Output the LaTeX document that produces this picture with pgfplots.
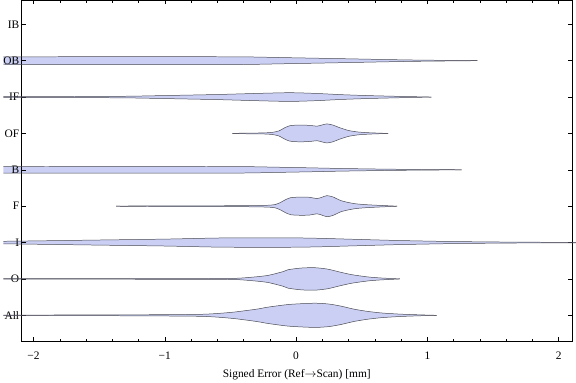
\documentclass[border=0pt]{standalone}
\usepackage{fontspec}
\setmainfont{Liberation Serif}
\usepackage{pgfplots}
\usepackage{pgfplotstable}
\pgfplotsset{compat=1.18}
\usepgfplotslibrary{fillbetween}

\definecolor{vfillc}{RGB}{203,207,243}
\definecolor{vedgec}{RGB}{75,75,85}

\pgfplotsset{
  layers/mylayers/.define layer set={
    axis background,axis grid,pre main,main,axis ticks,axis lines,axis tick labels,axis descriptions,axis foreground
  }{},
}

% x = position, h = half-width (category units)
\pgfplotstableread{
x h
-2.23 0.105
-1.5 0.11
-0.9 0.11
-0.4 0.105
-0.1 0.085
0.2 0.065
0.45 0.048
0.7 0.03
0.9 0.018
1.1 0.01
1.25 0.005
1.38 0
}\tOB
\pgfplotstableread{
x h
-2.23 0.012
-1.8 0.014
-1.3 0.022
-0.95 0.045
-0.6 0.07
-0.3 0.1
-0.05 0.12
0.15 0.1
0.35 0.065
0.55 0.04
0.75 0.022
0.9 0.01
1.03 0
}\tIF
\pgfplotstableread{
x h
-0.485 0
-0.4 0.008
-0.25 0.014
-0.18 0.03
-0.13 0.07
-0.09 0.15
-0.05 0.21
0.0 0.228
0.07 0.228
0.12 0.215
0.16 0.2
0.2 0.235
0.235 0.262
0.28 0.23
0.33 0.16
0.4 0.08
0.47 0.04
0.55 0.02
0.62 0.01
0.7 0
}\tOF
\pgfplotstableread{
x h
-2.23 0.09
-1.5 0.092
-0.9 0.092
-0.4 0.088
-0.15 0.072
0.1 0.055
0.35 0.036
0.65 0.02
0.9 0.01
1.1 0.005
1.26 0
}\tB
\pgfplotstableread{
x h
-1.37 0
-1.2 0.008
-0.8 0.01
-0.4 0.014
-0.22 0.025
-0.16 0.045
-0.12 0.1
-0.08 0.18
-0.04 0.235
0.03 0.25
0.1 0.245
0.16 0.21
0.2 0.25
0.235 0.29
0.28 0.255
0.34 0.155
0.4 0.1
0.46 0.063
0.54 0.04
0.62 0.025
0.7 0.012
0.77 0
}\tF
\pgfplotstableread{
x h
-2.23 0.035
-2.0 0.045
-1.5 0.07
-1.0 0.095
-0.6 0.125
-0.3 0.131
0.0 0.128
0.2 0.115
0.44 0.09
0.8 0.055
1.2 0.028
1.6 0.014
1.9 0.008
2.13 0.006
}\tI
\pgfplotstableread{
x h
-2.23 0.008
-1.5 0.008
-0.8 0.01
-0.6 0.014
-0.44 0.02
-0.3 0.06
-0.21 0.1
-0.1 0.2
-0.06 0.255
0.04 0.3
0.14 0.31
0.24 0.27
0.34 0.183
0.42 0.12
0.49 0.082
0.56 0.05
0.64 0.028
0.72 0.013
0.79 0
}\tO
\pgfplotstableread{
x h
-2.23 0.008
-1.5 0.01
-1.0 0.018
-0.72 0.028
-0.6 0.05
-0.47 0.09
-0.3 0.17
-0.21 0.227
-0.05 0.3
0.14 0.333
0.25 0.31
0.34 0.254
0.44 0.17
0.54 0.11
0.65 0.065
0.79 0.033
0.95 0.012
1.07 0
}\tAll

\newcommand{\violin}[3]{%
  \addplot[name path=up#3, draw=vedgec, line width=0.5pt, smooth, tension=0.4, no markers]
    table[x=x, y expr=#2+\thisrow{h}] {#1};
  \addplot[name path=lo#3, draw=vedgec, line width=0.5pt, smooth, tension=0.4, no markers]
    table[x=x, y expr=#2-\thisrow{h}] {#1};
  \addplot[fill=vfillc, draw=none] fill between[of=up#3 and lo#3];
}

\begin{document}
\begin{tikzpicture}
\begin{axis}[
  set layers=mylayers,
  scale only axis,
  width=552bp, height=342bp,
  xmin=-2.09, xmax=2.10,
  ymin=0.29, ymax=9.66,
  clip=false,
  xtick={-2,-1,0,1,2},
  xticklabels={−2,−1,0,1,2},
  minor x tick num=4,
  ytick={1,2,3,4,5,6,7,8,9},
  yticklabels={All,O,I,F,B,OF,IF,OB,IB},
  tick align=inside,
  major tick length=4bp,
  minor tick length=2.5bp,
  tick style={black, line width=0.5pt},
  axis line style={black, line width=0.6pt},
  tick label style={font=\fontsize{11.5}{13}\selectfont},
  xticklabel style={yshift=-7bp},
  yticklabel style={xshift=1bp},
  label style={font=\fontsize{11.5}{13}\selectfont},
  xlabel={Signed Error (Ref$\to$Scan) [mm]},
  xlabel style={yshift=-3bp},
]
\violin{\tOB}{8}{ob}
\violin{\tIF}{7}{if}
\violin{\tOF}{6}{of}
\violin{\tB}{5}{b}
\violin{\tF}{4}{f}
\violin{\tI}{3}{i}
\violin{\tO}{2}{o}
\violin{\tAll}{1}{all}
\end{axis}
\end{tikzpicture}
\end{document}
